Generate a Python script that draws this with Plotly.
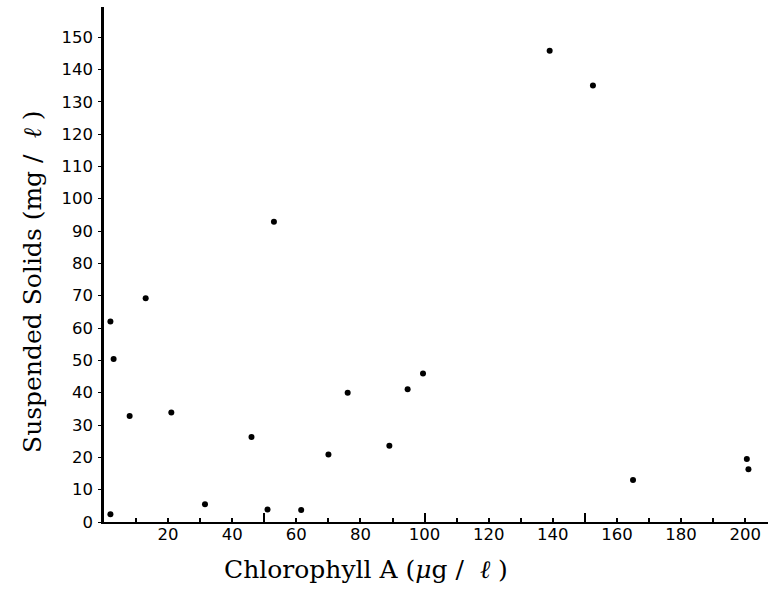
import plotly.graph_objects as go

# Data (Chlorophyll A vs Suspended Solids)
chlorophyll_a = [2, 3, 13, 8, 21, 2, 31.5, 46, 51, 61.5, 70, 89, 53, 139, 152.5, 165, 200.5, 201, 76, 94.7, 99.5]
suspended_solids = [62, 50.4, 69.2, 32.8, 33.9, 2.4, 5.5, 26.3, 3.9, 3.7, 20.9, 23.6, 92.9, 145.8, 135, 13, 19.5, 16.3, 40.0, 41.1, 45.9]

x_ticks = [20, 40, 60, 80, 100, 120, 140, 160, 180, 200]
x_major_marks = [50, 100, 150]
y_ticks = list(range(0, 151, 10))

fig = go.Figure()
fig.add_trace(go.Scatter(
    x=chlorophyll_a, y=suspended_solids, mode="markers",
    marker=dict(color="black", size=6), showlegend=False, hoverinfo="x+y"))
# invisible trace to activate the overlay axis with the longer ticks
fig.add_trace(go.Scatter(x=[None], y=[None], xaxis="x2", showlegend=False))

tick_font = dict(family="DejaVu Sans, sans-serif", size=16.5, color="black")
title_font = dict(family="DejaVu Serif, serif", size=25, color="black")

fig.update_layout(
    width=769, height=589,
    margin=dict(l=104, r=1, t=7, b=67),
    paper_bgcolor="white", plot_bgcolor="white",
    xaxis=dict(
        range=[0, 207.1], tickmode="array", tickvals=x_ticks,
        ticks="inside", ticklen=4, tickwidth=1.5, tickcolor="black",
        minor=dict(dtick=10, tick0=0, ticks="inside", ticklen=4, tickwidth=1.5, tickcolor="black"),
        showline=True, linecolor="black", linewidth=2, showgrid=False, zeroline=False,
        tickfont=tick_font, ticklabelstandoff=-4),
    xaxis2=dict(
        overlaying="x", matches="x", side="bottom", tickmode="array", tickvals=x_major_marks,
        ticks="inside", ticklen=9, tickwidth=1.5, tickcolor="black",
        showticklabels=False, showline=False, showgrid=False, zeroline=False),
    yaxis=dict(
        range=[0, 159.3], tickmode="array", tickvals=y_ticks,
        ticks="outside", ticklen=3, tickwidth=1, tickcolor="black",
        showline=True, linecolor="black", linewidth=2.5, showgrid=False, zeroline=False,
        tickfont=tick_font, ticklabelstandoff=2),
    annotations=[
        dict(text="Chlorophyll A (<i>μ</i>g /  <i>ℓ</i> )", xref="paper", yref="paper",
             x=(366 - 104) / 664, y=-(569 - 522) / 515, xanchor="center", yanchor="middle",
             showarrow=False, font=title_font),
        dict(text="Suspended Solids (mg /  <i>ℓ</i> )", xref="paper", yref="paper",
             x=-(104 - 32) / 664, y=(522 - 282) / 515, xanchor="center", yanchor="middle",
             textangle=-90, showarrow=False, font=title_font),
    ],
)

fig.write_html("out.html")
